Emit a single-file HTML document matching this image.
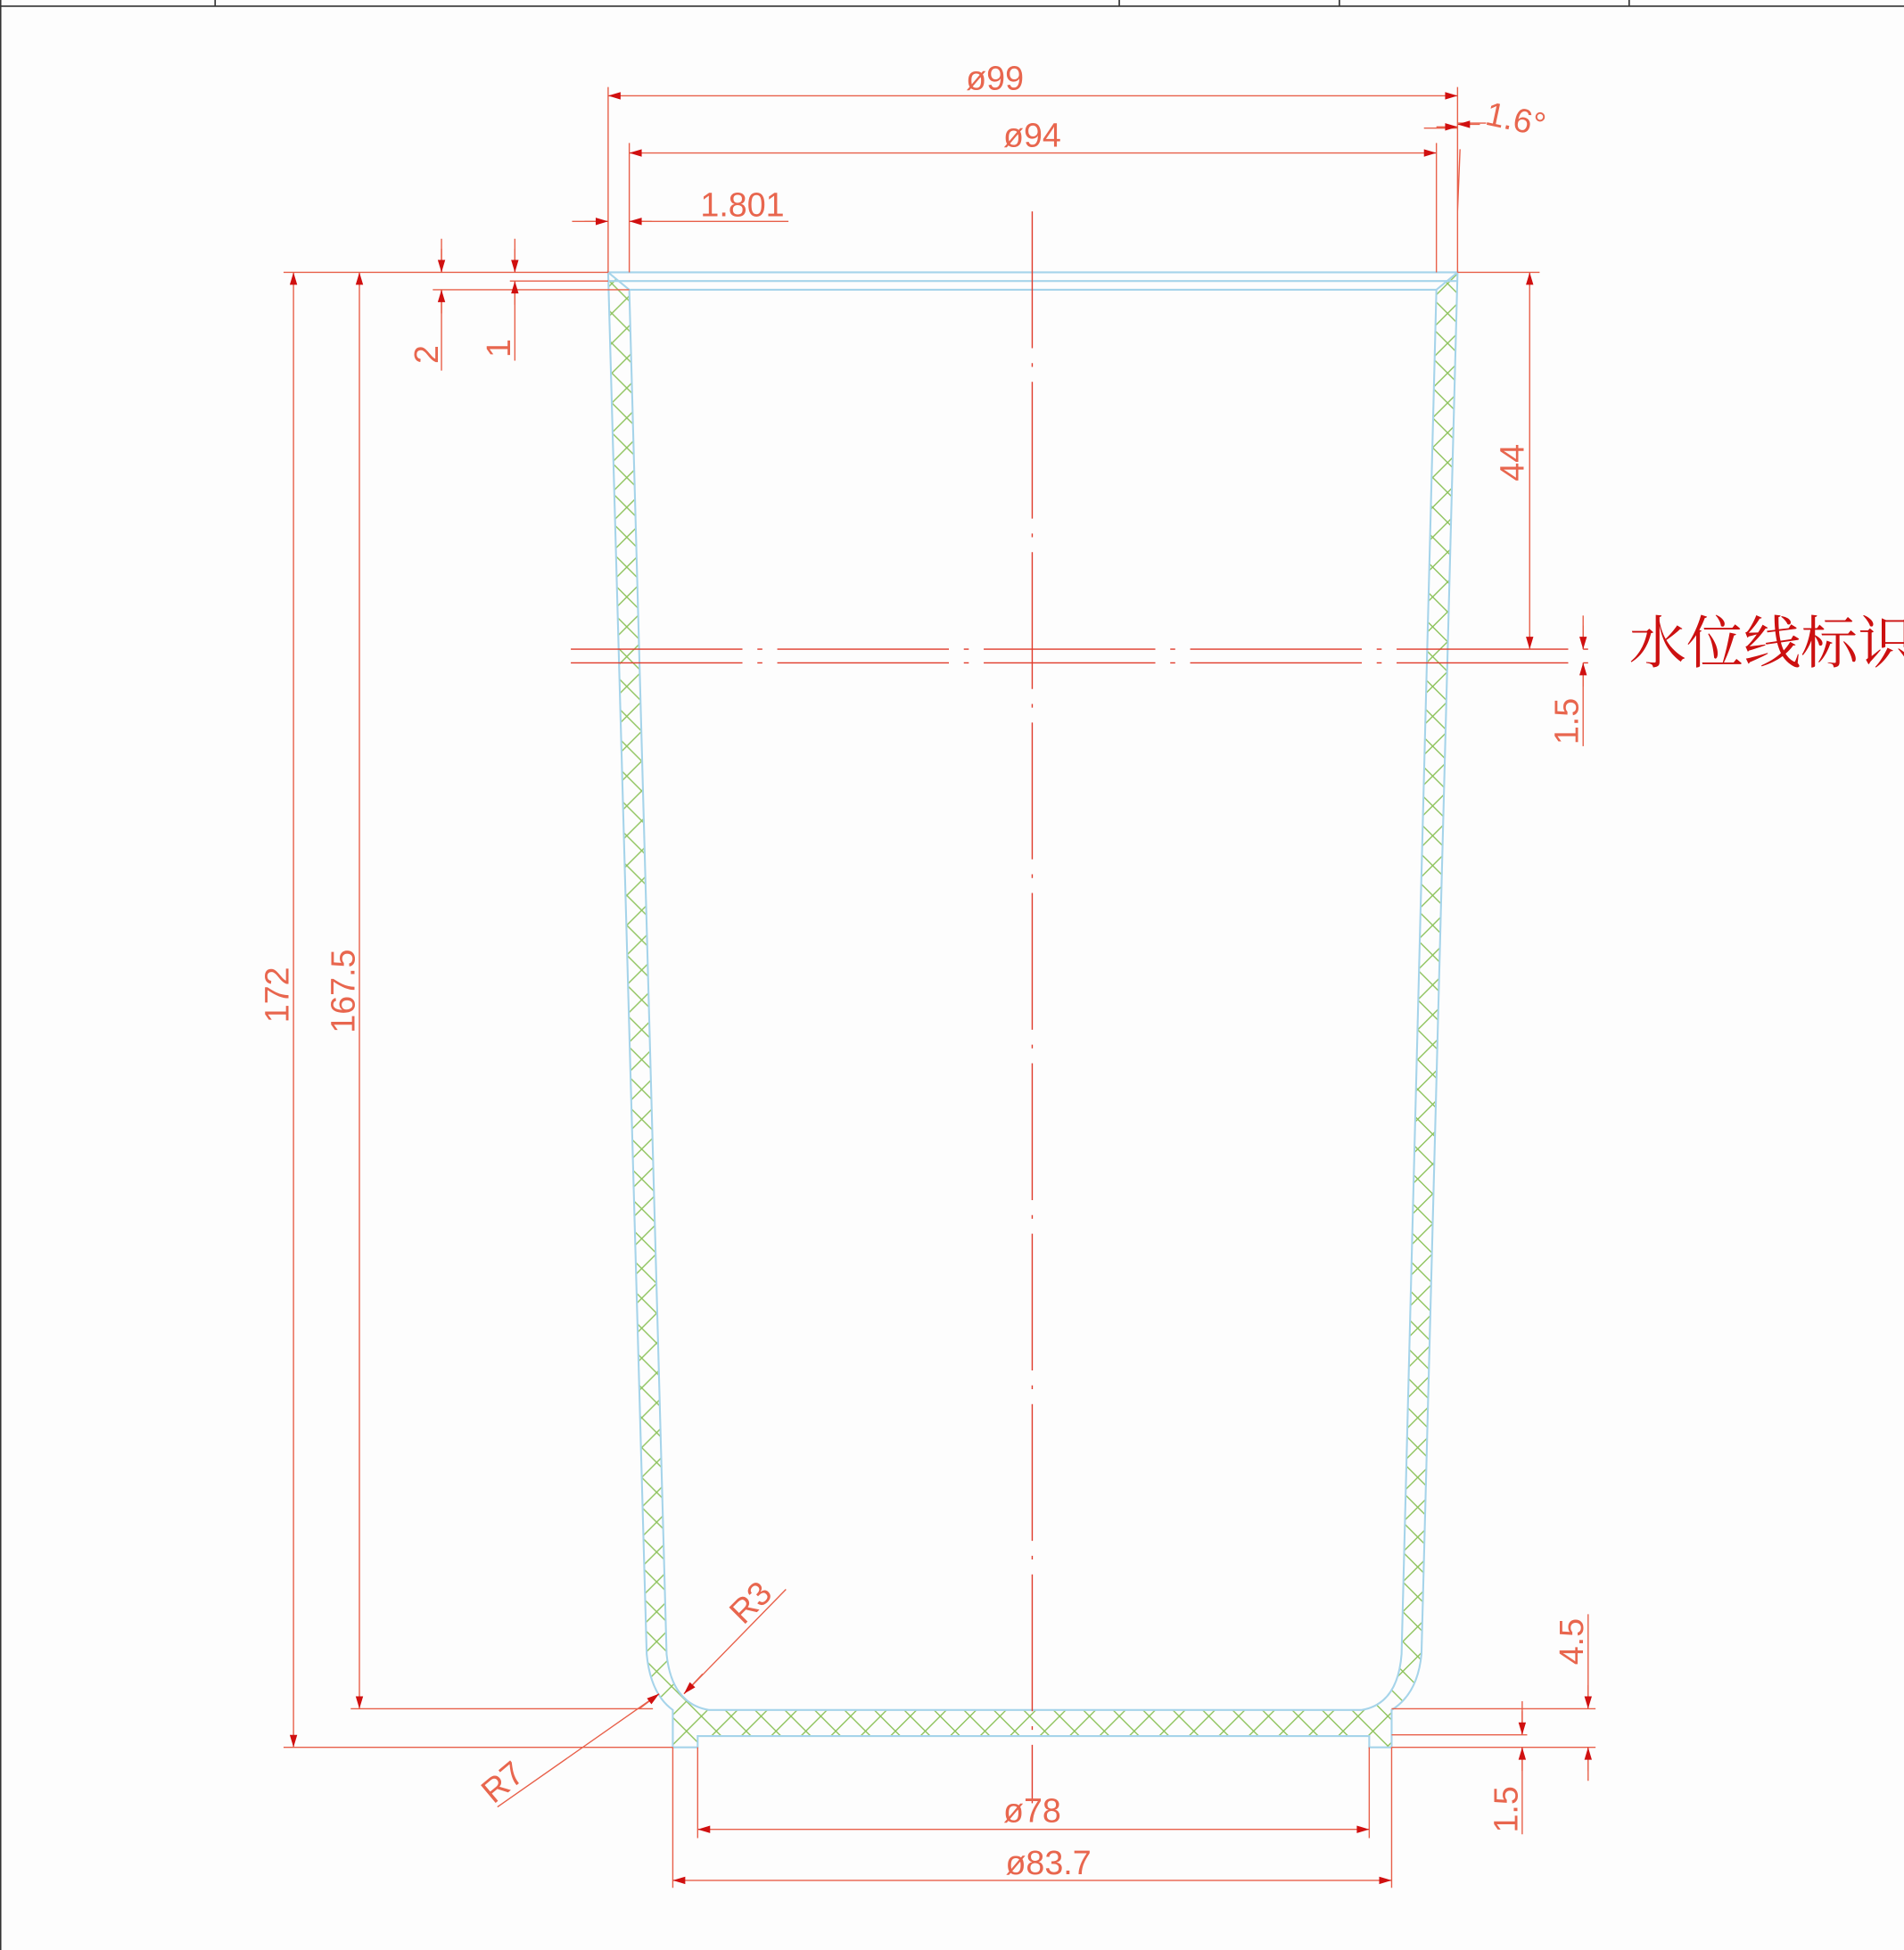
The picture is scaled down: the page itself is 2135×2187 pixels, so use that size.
<!DOCTYPE html>
<html><head><meta charset="utf-8"><style>
html,body{margin:0;padding:0;background:#fdfdfd;overflow:hidden}
svg{display:block}
text{font-family:"Liberation Sans",sans-serif;fill:#e8664e;font-weight:normal}
</style></head><body>
<svg width="2135" height="2187" viewBox="0 0 1531 1568" preserveAspectRatio="none" xmlns="http://www.w3.org/2000/svg">
<defs>
<pattern id="h" width="24" height="24" patternUnits="userSpaceOnUse">
<path d="M0 0L24 24M24 0L0 24" stroke="#8cc25a" stroke-width="1"/>
</pattern>
<marker id="a" viewBox="0 0 10 10" refX="10" refY="5" markerWidth="17" markerHeight="10" markerUnits="userSpaceOnUse" orient="auto-start-reverse"><path d="M0 2L10 5L0 8z" fill="#d01010"/></marker>
</defs>
<rect width="1531" height="1568" fill="#fdfdfd"/>
<g stroke="#333" stroke-width="1.2" fill="none">
<path d="M0 5H1531M0.5 0V1568M173 0V5M900 0V5M1077 0V5M1310 0V5"/>
</g>
<g stroke="#a6d4ea" stroke-width="1.5">
<path d="M489 219L520 1330Q523 1362 541 1375V1405H561V1396H1101V1405H1119V1375Q1140 1362 1143 1330L1172 219L1155 233L1127 1330Q1124 1370 1095 1375H570Q540 1370 536 1330L506 233Z" fill="url(#h)"/>
<path d="M489 219H1172M489 226H1172M506 233H1155" fill="none"/>
</g>
<g stroke="#e03a2a" stroke-width="1" fill="none">
<path d="M830 170V1450" stroke-dasharray="110 12 3 12"/>
<path d="M459 522H1280M459 533H1280" stroke-dasharray="138 12 4 12" />
</g>
<g stroke="#e8604a" stroke-width="1" fill="none">
<path d="M489 70V219M1172 70V219M506 115V219M1155 115V219M1174 120L1172 170"/>
<path d="M228 219H489M348 233H506M410 226H489M1172 219H1238"/>
<path d="M228 1405H541M282 1374H525M1119 1374H1283M1119 1395H1228M1119 1405H1283"/>
<path d="M561 1405V1478M1101 1405V1478M541 1405V1518M1119 1405V1518"/>
<path d="M460 178H489M506 178H634"/>
<path d="M1145 103H1172M1195 99H1172"/>
<path d="M355 192V219M355 233V298M414 192V219M414 226V290"/>
<path d="M1273 495V522M1273 533V600M1277 1298V1374M1277 1405V1432M1224 1368V1395M1224 1405V1475"/>
<path d="M632 1278L550 1362M400 1453L530 1362"/>
</g>
<g stroke="#e8604a" stroke-width="1" fill="none">
<path d="M489 77H1172" marker-start="url(#a)" marker-end="url(#a)"/>
<path d="M506 123H1155" marker-start="url(#a)" marker-end="url(#a)"/>
<path d="M236 219V1405" marker-start="url(#a)" marker-end="url(#a)"/>
<path d="M289 219V1374" marker-start="url(#a)" marker-end="url(#a)"/>
<path d="M1230 219V522" marker-start="url(#a)" marker-end="url(#a)"/>
<path d="M561 1471H1101" marker-start="url(#a)" marker-end="url(#a)"/>
<path d="M541 1512H1119" marker-start="url(#a)" marker-end="url(#a)"/>
<path d="M470 178H489" marker-end="url(#a)"/>
<path d="M524 178H506" marker-end="url(#a)"/>
<path d="M355 200V219" marker-end="url(#a)"/>
<path d="M355 252V233" marker-end="url(#a)"/>
<path d="M414 200V219" marker-end="url(#a)"/>
<path d="M414 245V226" marker-end="url(#a)"/>
<path d="M1273 503V522" marker-end="url(#a)"/>
<path d="M1273 552V533" marker-end="url(#a)"/>
<path d="M1277 1355V1374" marker-end="url(#a)"/>
<path d="M1277 1424V1405" marker-end="url(#a)"/>
<path d="M1224 1376V1395" marker-end="url(#a)"/>
<path d="M1224 1424V1405" marker-end="url(#a)"/>
<path d="M1155 102H1172" marker-end="url(#a)"/>
<path d="M1190 100H1172" marker-end="url(#a)"/>
<path d="M565 1346L550 1362" marker-end="url(#a)"/>
<path d="M514 1374L530 1362" marker-end="url(#a)"/>
</g>
<g font-size="27">
<text x="800" y="72" text-anchor="middle">ø99</text>
<text x="830" y="118" text-anchor="middle">ø94</text>
<text x="597" y="174" text-anchor="middle">1.801</text>
<text x="1218" y="105" text-anchor="middle" transform="rotate(12 1218 100)">1.6°</text>
<text x="830" y="1465" text-anchor="middle">ø78</text>
<text x="843" y="1507" text-anchor="middle">ø83.7</text>
<text transform="translate(352 285) rotate(-90)" text-anchor="middle">2</text>
<text transform="translate(410 280) rotate(-90)" text-anchor="middle">1</text>
<text transform="translate(232 800) rotate(-90)" text-anchor="middle">172</text>
<text transform="translate(285 797) rotate(-90)" text-anchor="middle">167.5</text>
<text transform="translate(1225 372) rotate(-90)" text-anchor="middle">44</text>
<text transform="translate(1269 580) rotate(-90)" text-anchor="middle">1.5</text>
<text transform="translate(1273 1320) rotate(-90)" text-anchor="middle">4.5</text>
<text transform="translate(1220 1455) rotate(-90)" text-anchor="middle">1.5</text>
<text transform="translate(610 1295) rotate(-45)" text-anchor="middle">R3</text>
<text transform="translate(410 1440) rotate(-40)" text-anchor="middle">R7</text>
</g>
<text x="1310" y="533" font-size="46" style="font-family:'Liberation Serif','Noto Serif CJK SC',serif;fill:#cc1010">水位线标识</text>
</svg>
</body></html>
